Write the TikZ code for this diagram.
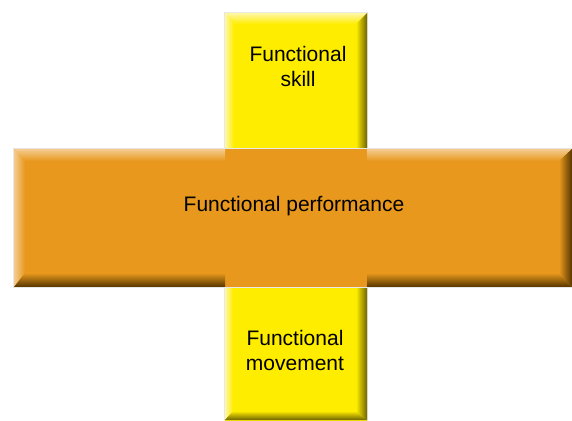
\documentclass[tikz,border=0pt]{standalone}
\usepackage{fontspec}
\setmainfont{Liberation Sans}
\definecolor{barYellow}{HTML}{FFED00}
\definecolor{barOrange}{HTML}{E8981C}
\definecolor{yellowDark}{HTML}{6E6400}
\definecolor{orangeDark}{HTML}{553500}
\definecolor{yellowLight}{HTML}{FFF7A8}
\definecolor{orangeLight}{HTML}{F4CC92}
\begin{document}
\begin{tikzpicture}[x=1pt,y=1pt,
  boxlabel/.style={font=\fontsize{21}{25}\selectfont, align=center, text=black, inner sep=0pt},
  rim/.style={fill=gray!18}]
\useasboundingbox (0,0) rectangle (572,420);

% ---- yellow column (skill above, movement below) ----
\fill[rim] (224,-2) rectangle (368,408);
\fill[barYellow] (225,-2) rectangle (367,407);
% upper block bevels
\shade[top color=yellowLight, bottom color=barYellow]
  (225,407) -- (367,407) -- (356,396) -- (234,396) -- cycle;
\shade[left color=yellowLight, right color=barYellow]
  (225,133) -- (225,407) -- (234,398) -- (234,133) -- cycle;
\shade[left color=barYellow, right color=yellowDark]
  (356,133) -- (356,396) -- (367,407) -- (367,133) -- cycle;
% lower block bevels
\shade[left color=yellowLight, right color=barYellow]
  (225,0) -- (225,133) -- (233,133) -- (233,9) -- cycle;
\shade[left color=barYellow, right color=yellowDark]
  (356,9) -- (356,133) -- (367,133) -- (367,0) -- cycle;
\shade[top color=barYellow, bottom color=yellowDark]
  (225,0) -- (233,9) -- (356,9) -- (367,0) -- cycle;

% ---- orange bar ----
\fill[rim] (13,132) rectangle (573,272);
\fill[barOrange] (14,133) rectangle (572,271);
% top highlight, left and right of the column
\shade[top color=orangeLight, bottom color=barOrange]
  (14,271) -- (225,271) -- (225,259) -- (25,259) -- cycle;
\shade[top color=orangeLight, bottom color=barOrange]
  (367,271) -- (572,271) -- (559,259) -- (367,259) -- cycle;
% left highlight
\shade[left color=orangeLight, right color=barOrange]
  (14,133) -- (14,271) -- (25,259) -- (25,147) -- cycle;
% right shade
\shade[left color=barOrange, right color=orangeDark]
  (559,147) -- (559,259) -- (572,271) -- (572,133) -- cycle;
% bottom shade, left and right of the column
\shade[top color=barOrange, bottom color=orangeDark]
  (14,133) -- (225,133) -- (225,147) -- (25,147) -- cycle;
\shade[top color=barOrange, bottom color=orangeDark]
  (367,133) -- (572,133) -- (559,147) -- (367,147) -- cycle;

% ---- labels ----
\node[boxlabel] (skill) at (298,353.1) {Functional\\skill};
\node[boxlabel, anchor=base] (performance) at (294,208) {Functional performance};
\node[boxlabel] (movement) at (295,69.1) {Functional\\movement};
\end{tikzpicture}
\end{document}
